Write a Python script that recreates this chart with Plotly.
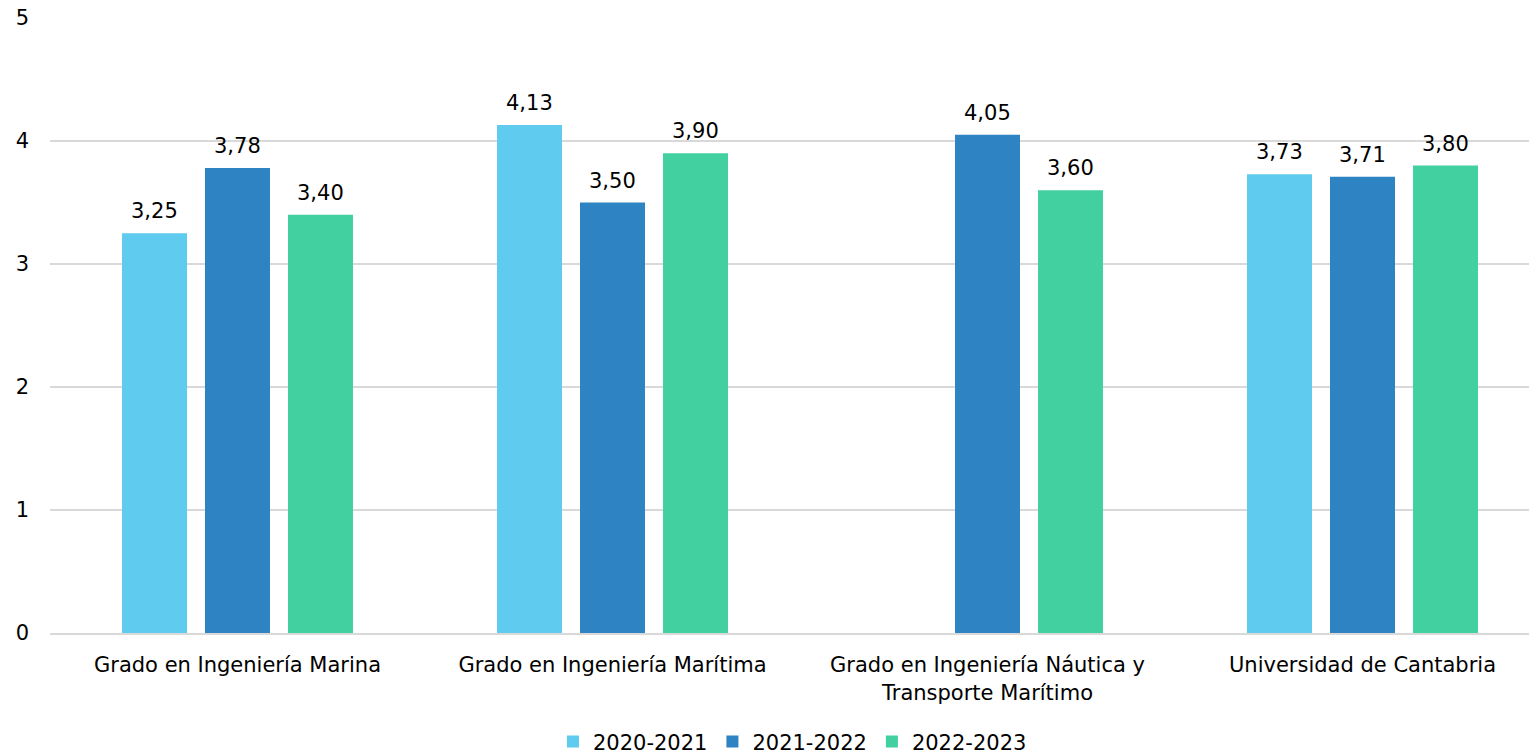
import plotly.graph_objects as go

categories = [
    "Grado en Ingeniería Marina",
    "Grado en Ingeniería Marítima",
    "Grado en Ingeniería Náutica y<br>Transporte Marítimo",
    "Universidad de Cantabria",
]
series_names = ["2020-2021", "2021-2022", "2022-2023"]
values_2020_2021 = [3.25, 4.13, None, 3.73]
values_2021_2022 = [3.78, 3.50, 4.05, 3.71]
values_2022_2023 = [3.40, 3.90, 3.60, 3.80]
colors = ["#5FCBEF", "#2E83C3", "#43D0A0"]

FONT = "DejaVu Sans"
FS = 21
PLOT_W = 1479          # pixel width of the plotting area
CAT_W = 375            # pixel width of one category slot
BAR_STEP = 83          # pixel distance between bar centres within a group

def fmt(v):
    return f"{v:.2f}".replace(".", ",")

fig = go.Figure()
all_series = [values_2020_2021, values_2021_2022, values_2022_2023]
for i, (name, vals, col) in enumerate(zip(series_names, all_series, colors)):
    fig.add_trace(go.Bar(
        name=name, x=categories, y=vals,
        marker=dict(color=col, line=dict(width=0)),
    ))
    # value labels above each bar
    for cat, v in zip(categories, vals):
        if v is None:
            continue
        fig.add_annotation(
            x=cat, y=v, text=fmt(v), showarrow=False,
            xshift=(i - 1) * BAR_STEP, yanchor="bottom", yshift=8,
            font=dict(family=FONT, size=FS, color="#000000"),
        )

fig.update_layout(
    width=1529, height=754,
    margin=dict(l=50, r=0, t=18, b=121, autoexpand=False),
    paper_bgcolor="white", plot_bgcolor="white",
    barmode="group", bargap=0.336, bargroupgap=0.217,
    font=dict(family=FONT, size=FS, color="#000000"),
    showlegend=True,
    legend=dict(orientation="h", x=0.502, xanchor="center",
                yref="container", y=0.016, yanchor="middle",
                font=dict(family=FONT, size=FS, color="#000000"),
                itemwidth=30, tracegroupgap=0, traceorder="normal"),
    xaxis=dict(range=[-0.5, PLOT_W / CAT_W - 0.5], showgrid=False, showline=True,
               linecolor="#d9d9d9", linewidth=2, ticks="", ticklabelstandoff=12,
               automargin=False,
               tickfont=dict(family=FONT, size=FS, color="#000000")),
    yaxis=dict(range=[0, 5], dtick=1, showgrid=True, gridcolor="#d9d9d9", gridwidth=2,
               zeroline=False, showline=False, ticks="", ticklabelstandoff=20,
               automargin=False,
               tickfont=dict(family=FONT, size=FS, color="#000000")),
)

fig.write_html("out.html")
